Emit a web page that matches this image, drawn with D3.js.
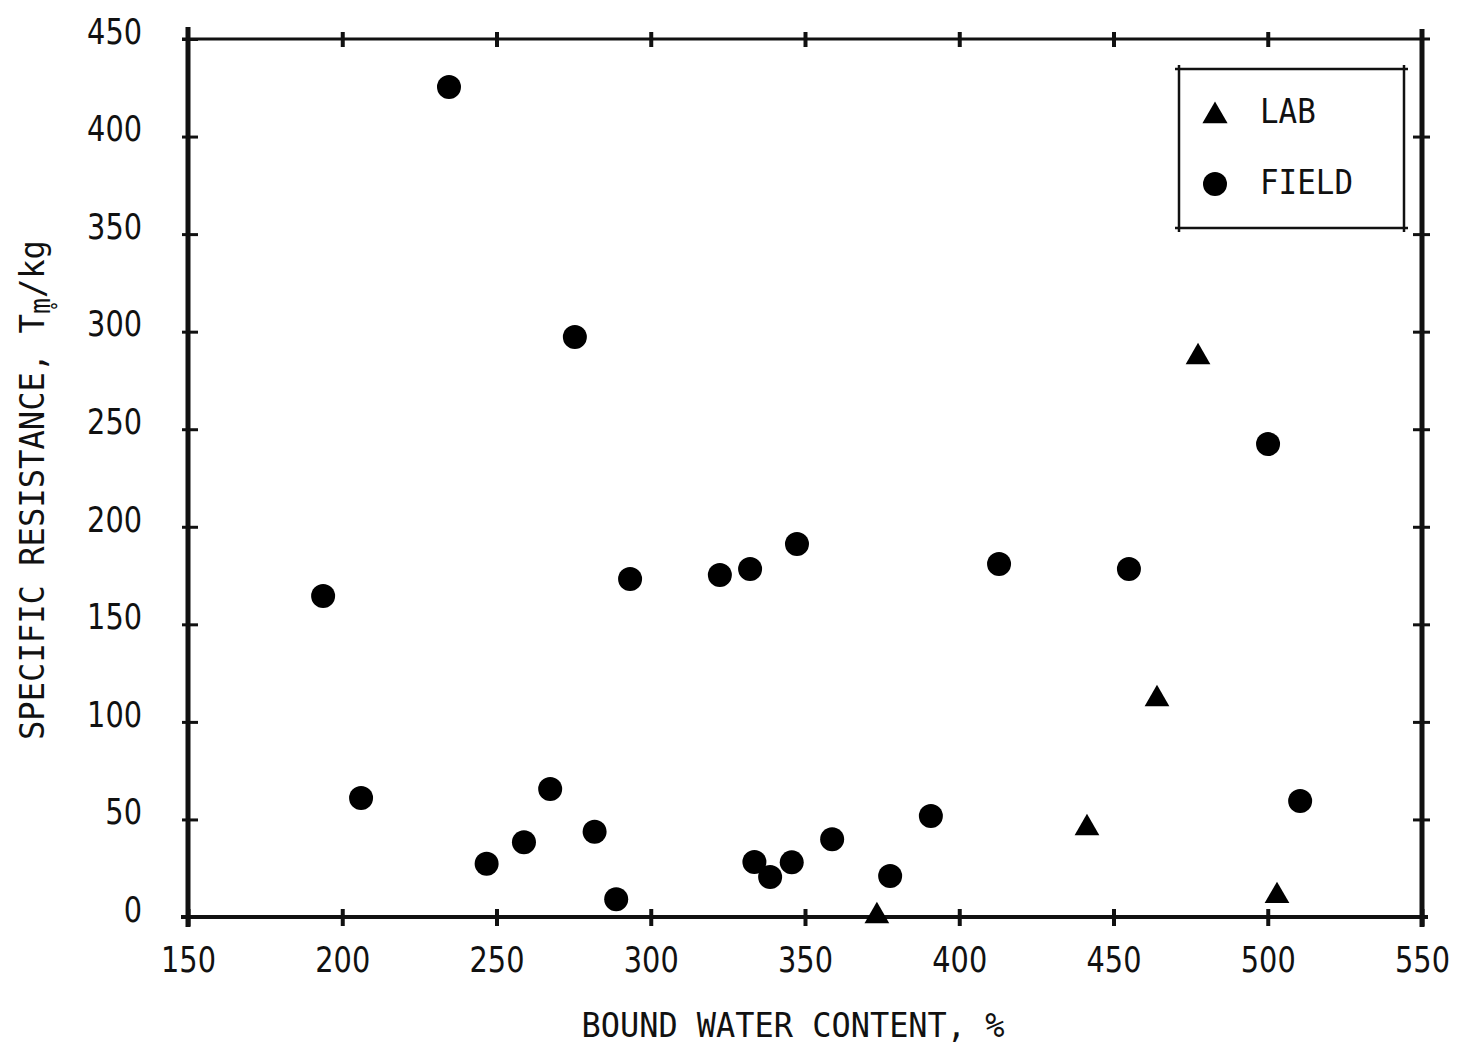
<!DOCTYPE html>
<html>
<head>
<meta charset="utf-8">
<script src="https://cdn.jsdelivr.net/npm/d3@7"></script>
<style>
  body { margin: 0; background: #fff; }
  svg { display: block; }
  .tick text { font-family: "DejaVu Sans", sans-serif; font-size: 36px; fill: #111; }
  .title { font-family: "DejaVu Sans Mono", monospace; font-size: 34px; fill: #111; }
</style>
</head>
<body>
<div id="chart"></div>
<script>
const [svgWidth, svgHeight] = [1458, 1050];

// tick values
const xTicks = [150, 200, 250, 300, 350, 400, 450, 500, 550];
const yTicks = [0, 50, 100, 150, 200, 250, 300, 350, 400, 450];

// FIELD samples (circles)
const fieldX = [234.6, 275.4, 193.8, 206.1, 246.8, 258.9, 267.4, 281.8, 288.8, 293.3, 322.4, 332.2,
                347.4, 333.6, 338.7, 345.7, 358.8, 377.6, 390.8, 412.9, 455.0, 500.1, 510.5];
const fieldY = [425.4, 297.3, 164.5, 61.0, 27.3, 38.3, 65.6, 43.7, 9.1, 173.2, 175.3, 178.4,
                191.2, 28.2, 20.5, 28.0, 39.8, 21.0, 51.8, 180.9, 178.4, 242.4, 59.5];

// LAB samples (triangles)
const labX = [373.3, 441.4, 464.1, 477.4, 503.0];
const labY = [0.5, 45.6, 111.7, 287.0, 10.8];

const legendNames = ['LAB', 'FIELD'];

function translate(x, y) {
    return 'translate(' + x + ',' + y + ')';
}

let svg = d3.select('#chart').append('svg')
    .attr('width', svgWidth)
    .attr('height', svgHeight);

let x = d3.scaleLinear().domain([150, 550]).range([188, 1422]);
let y = d3.scaleLinear().domain([0, 450]).range([917, 39]);

// frame
const frame = svg.append('g').attr('stroke', '#111').attr('fill', 'none');
frame.append('line').attr('x1', 182).attr('x2', 1430).attr('y1', y(450)).attr('y2', y(450)).attr('stroke-width', 3);
frame.append('line').attr('x1', 181).attr('x2', 1428).attr('y1', y(0)).attr('y2', y(0)).attr('stroke-width', 4);
frame.append('line').attr('x1', x(150)).attr('x2', x(150)).attr('y1', 27).attr('y2', 927).attr('stroke-width', 5);
frame.append('line').attr('x1', x(550)).attr('x2', x(550)).attr('y1', 29).attr('y2', 927).attr('stroke-width', 5);

// axes (labels squeezed horizontally, the originals are a narrow face)
const squeeze = 0.8;

let xAxis = svg.append('g').attr('transform', translate(0, y(0)))
    .call(d3.axisBottom(x).tickValues(xTicks).tickFormat(d3.format('d')).tickSize(8));
xAxis.select('.domain').remove();
xAxis.selectAll('.tick line').attr('y1', -8).attr('y2', 9).attr('stroke', '#111').attr('stroke-width', 4);
xAxis.selectAll('.tick text').attr('y', 55).attr('dy', 0)
    .attr('transform', 'scale(' + squeeze + ',1)');

let xTop = svg.append('g').attr('transform', translate(0, y(450)))
    .call(d3.axisTop(x).tickValues(xTicks.slice(1, -1)).tickFormat('').tickSize(7));
xTop.select('.domain').remove();
xTop.selectAll('.tick line').attr('y1', 8).attr('y2', -7).attr('stroke', '#111').attr('stroke-width', 4);

let yAxis = svg.append('g').attr('transform', translate(x(150), 0))
    .call(d3.axisLeft(y).tickValues(yTicks).tickFormat(d3.format('d')).tickSize(6));
yAxis.select('.domain').remove();
yAxis.selectAll('.tick line').attr('x1', 10).attr('x2', -6).attr('stroke', '#111').attr('stroke-width', 3);
yAxis.selectAll('.tick text').attr('x', -46 / squeeze).attr('dy', '0.12em')
    .attr('transform', 'scale(' + squeeze + ',1)');

let yRight = svg.append('g').attr('transform', translate(x(550), 0))
    .call(d3.axisRight(y).tickValues(yTicks.slice(1, -1)).tickFormat('').tickSize(8));
yRight.select('.domain').remove();
yRight.selectAll('.tick line').attr('x1', -9).attr('x2', 8).attr('stroke', '#111').attr('stroke-width', 3);

// titles
svg.append('text').attr('class', 'title')
    .attr('x', 793).attr('y', 1037)
    .attr('text-anchor', 'middle')
    .attr('textLength', 423).attr('lengthAdjust', 'spacingAndGlyphs')
    .text('BOUND WATER CONTENT, %');

let yTitle = svg.append('text').attr('class', 'title')
    .attr('transform', translate(44, 490) + ' rotate(-90)')
    .attr('text-anchor', 'middle')
    .attr('textLength', 500).attr('lengthAdjust', 'spacingAndGlyphs');
yTitle.append('tspan').text('SPECIFIC RESISTANCE, T');
yTitle.append('tspan').attr('dy', 6).attr('font-size', 28).text('m\u0325');
yTitle.append('tspan').attr('dy', -6).text('/kg');

// marks
const triangle = d3.symbol().type(d3.symbolTriangle).size(265);

svg.append('g').selectAll('circle')
    .data(d3.zip(fieldX, fieldY))
    .join('circle')
    .attr('cx', d => x(d[0]))
    .attr('cy', d => y(d[1]))
    .attr('r', 12)
    .attr('fill', '#000');

svg.append('g').selectAll('path')
    .data(d3.zip(labX, labY))
    .join('path')
    .attr('d', triangle)
    .attr('transform', d => translate(x(d[0]), y(d[1])))
    .attr('fill', '#000');

// legend
const lg = svg.append('g').attr('stroke', '#111').attr('stroke-width', 2.5);
lg.append('line').attr('x1', 1175).attr('x2', 1408).attr('y1', 69).attr('y2', 69);
lg.append('line').attr('x1', 1175).attr('x2', 1408).attr('y1', 228).attr('y2', 228);
lg.append('line').attr('x1', 1179).attr('x2', 1179).attr('y1', 65).attr('y2', 232);
lg.append('line').attr('x1', 1404).attr('x2', 1404).attr('y1', 65).attr('y2', 232);

let items = svg.append('g').selectAll('g')
    .data(legendNames)
    .join('g')
    .attr('transform', (d, i) => translate(1215, 116 + i * 68));
items.filter(d => d === 'LAB').append('path').attr('d', d3.symbol().type(d3.symbolTriangle).size(275)).attr('fill', '#000');
items.filter(d => d === 'FIELD').append('circle').attr('r', 12).attr('fill', '#000');
items.append('text').attr('class', 'title')
    .attr('x', 45).attr('y', (d, i) => 7 + i * 3)
    .attr('font-size', 36)
    .attr('textLength', d => d.length * 18.6).attr('lengthAdjust', 'spacingAndGlyphs')
    .text(d => d);
</script>
</body>
</html>
